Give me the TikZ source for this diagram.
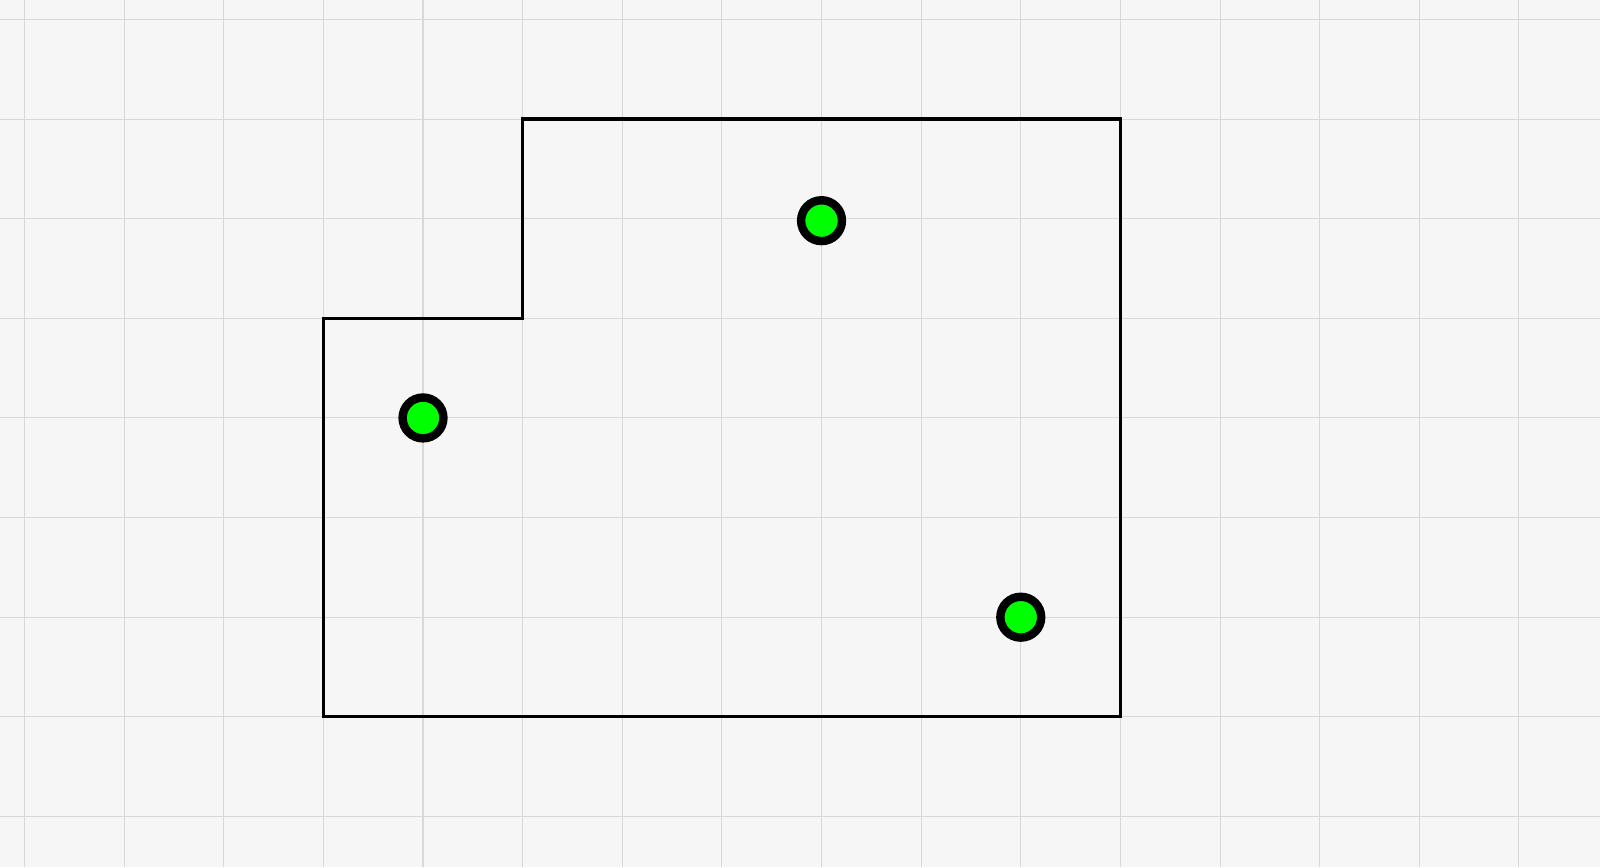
\documentclass[tikz,border=0pt]{standalone}
\usepackage{xcolor}
\usepackage{tikz}
\usetikzlibrary{positioning}
\definecolor{bgpaper}{HTML}{F6F6F6}
\definecolor{gridline}{HTML}{D8D8D8}
\definecolor{dotgreen}{HTML}{00FF00}

\begin{document}
\begin{tikzpicture}[
  site/.style={circle, draw=black, fill=dotgreen, line width=2.4pt, minimum size=0.41cm, inner sep=0pt},
  wall/.style={draw=black, line width=0.95pt, line join=miter}
]
\fill[bgpaper] (-0.246,-0.509) rectangle (15.814,8.195);
\useasboundingbox (-0.246,-0.509) rectangle (15.814,8.195);
\draw[gridline, line width=0.3pt, step=1] (-0.246,-0.509) grid (15.814,8.195);

\coordinate(O1) at (0,0);

\draw[wall] (3,1) -- (11,1) -- (11,7) -- (5,7) -- (5,5) -- (3,5) -- cycle;

\node[site] (s1) at (8,5.98) {};
\node[site] (s2) at (4,4) {};
\node[site] (s3) at (10,2) {};
\end{tikzpicture}
\end{document}
